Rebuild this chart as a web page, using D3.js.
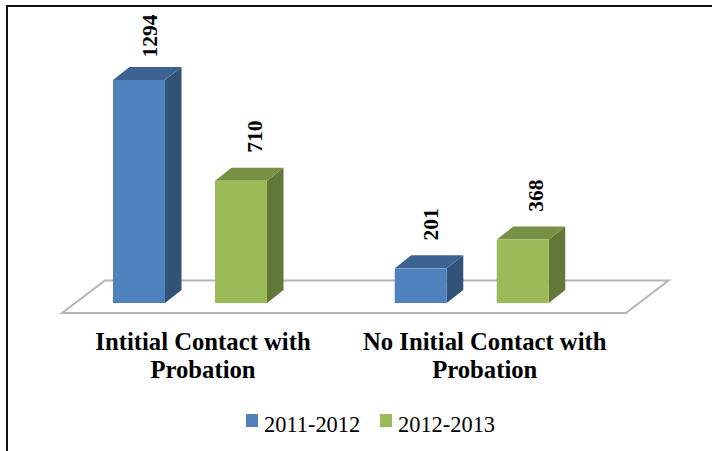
<!DOCTYPE html>
<html>
<head>
<meta charset="utf-8">
<script src="https://cdn.jsdelivr.net/npm/d3@7"></script>
<style>
  html, body { margin: 0; padding: 0; background: #fff; }
  svg { display: block; }
  text { font-family: "Liberation Serif", serif; fill: #000; }
</style>
</head>
<body>
<div id="chart"></div>
<script>
const categories = ["Intitial Contact with|Probation", "No Initial Contact with|Probation"];
const seriesNames = ["2011-2012", "2012-2013"];
const values2011 = [1294, 201];
const values2012 = [710, 368];

const width = 712, height = 451;
const depthX = 16.5, depthY = 13;

const svg = d3.select("#chart").append("svg")
    .attr("width", width)
    .attr("height", height);

// outer frame, open on the right and bottom
svg.append("path")
    .attr("d", "M7,451V6H712")
    .attr("fill", "none")
    .attr("stroke", "#111")
    .attr("stroke-width", 2);

// scales
const x0 = d3.scaleBand().domain(categories).range([113, 676.5]);
const x1 = d3.scaleBand().domain(seriesNames).range([0, 154]).paddingInner(0.49);
const y = d3.scaleLinear().domain([0, 1294]).range([303, 80]);

const color = d3.scaleOrdinal().domain(seriesNames).range(["#4f81bd", "#9bbb59"]);
const topColor = d3.scaleOrdinal().domain(seriesNames).range(["#3d6392", "#779044"]);
const sideColor = d3.scaleOrdinal().domain(seriesNames).range(["#325277", "#637736"]);
const labelShift = d3.scaleOrdinal().domain(seriesNames).range([10, 13]);

// floor
svg.append("path")
    .attr("d", "M62,313H626L668.5,280.5H105Z")
    .attr("fill", "#fff")
    .attr("stroke", "#b5b5b5")
    .attr("stroke-width", 2);

const bars = [];
categories.forEach((c, i) => {
    bars.push({ cat: c, key: seriesNames[0], value: values2011[i] });
    bars.push({ cat: c, key: seriesNames[1], value: values2012[i] });
});

const barX = d => x0(d.cat) + x1(d.key);
const barWidth = x1.bandwidth();

const g = svg.selectAll("g.bar").data(bars).enter().append("g").attr("class", "bar");

// side
g.append("path")
    .attr("fill", d => sideColor(d.key))
    .attr("d", d => {
        const r = barX(d) + barWidth, t = y(d.value), b = y(0);
        return `M${r},${t}l${depthX},${-depthY}V${b - depthY}L${r},${b}Z`;
    });

// top
g.append("path")
    .attr("fill", d => topColor(d.key))
    .attr("d", d => `M${barX(d)},${y(d.value)}l${depthX},${-depthY}h${barWidth}l${-depthX},${depthY}Z`);

// front
g.append("rect")
    .attr("x", barX)
    .attr("y", d => y(d.value))
    .attr("width", barWidth)
    .attr("height", d => y(0) - y(d.value))
    .attr("fill", d => color(d.key));

// value labels
g.append("text")
    .attr("transform", d => `translate(${barX(d) + barWidth / 2 + labelShift(d.key)},${y(d.value) - 44}) rotate(-90)`)
    .attr("text-anchor", "middle")
    .attr("dy", "0.35em")
    .style("font-size", "21.5px")
    .style("font-weight", "bold")
    .text(d => d.value);

// category labels
categories.forEach(c => {
    c.split("|").forEach((line, j) => {
        svg.append("text")
            .attr("x", x0(c) + 90)
            .attr("y", 350 + j * 28)
            .attr("text-anchor", "middle")
            .style("font-size", "24.7px")
            .style("font-weight", "bold")
            .text(line);
    });
});

// legend
const legendX = d3.scaleBand().domain(seriesNames).range([246, 514]);
seriesNames.forEach(name => {
    svg.append("rect")
        .attr("x", legendX(name))
        .attr("y", 414)
        .attr("width", 12)
        .attr("height", 13)
        .attr("fill", color(name));
    svg.append("text")
        .attr("x", legendX(name) + 18)
        .attr("y", 432)
        .style("font-size", "22.4px")
        .text(name);
});
</script>
</body>
</html>
